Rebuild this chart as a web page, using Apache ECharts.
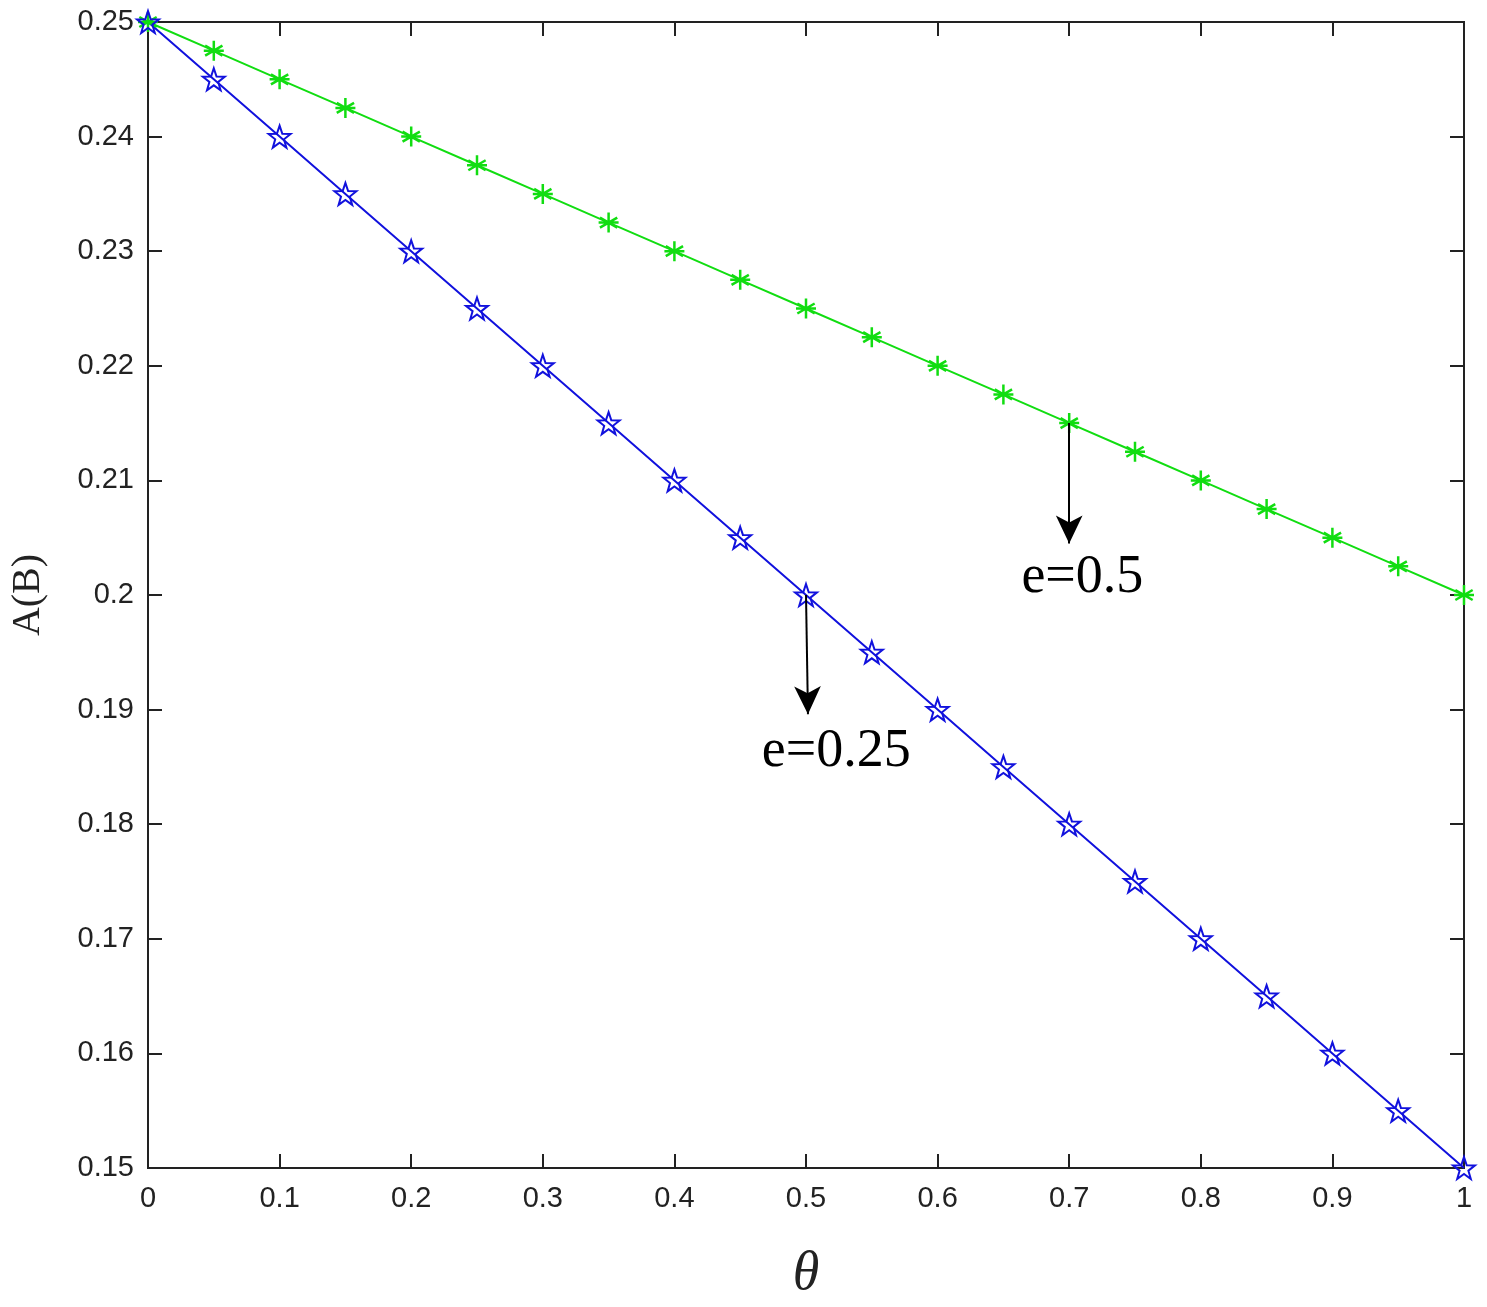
<!DOCTYPE html>
<html>
<head>
<meta charset="utf-8">
<script src="https://cdn.jsdelivr.net/npm/echarts@6/dist/echarts.min.js"></script>
<style>html,body{margin:0;padding:0;background:#fff}#chart{width:1487px;height:1307px}</style>
</head>
<body>
<div id="chart"></div>
<script>
var thetas = [0,0.05,0.1,0.15,0.2,0.25,0.3,0.35,0.4,0.45,0.5,0.55,0.6,0.65,0.7,0.75,0.8,0.85,0.9,0.95,1];
var e025 = [0.25,0.245,0.24,0.235,0.23,0.225,0.22,0.215,0.21,0.205,0.2,0.195,0.19,0.185,0.18,0.175,0.17,0.165,0.16,0.155,0.15];
var e05 = [0.25,0.2475,0.245,0.2425,0.24,0.2375,0.235,0.2325,0.23,0.2275,0.225,0.2225,0.22,0.2175,0.215,0.2125,0.21,0.2075,0.205,0.2025,0.2];

function pairs(ys) { return thetas.map(function (t, i) { return [t, ys[i]]; }); }

var starPath = 'path://M0,-10L2.35,-3.24L9.51,-3.09L3.8,1.24L5.88,8.09L0,4L-5.88,8.09L-3.8,1.24L-9.51,-3.09L-2.35,-3.24Z';
var asterPath = 'path://M0,-10L0,10M-8.66,-5L8.66,5M-8.66,5L8.66,-5M-10,0L10,0';

var tickFont = { fontFamily: 'Arial, Liberation Sans', fontSize: 29, color: '#222' };
var frameLine = { show: true, onZero: false, lineStyle: { color: '#222', width: 2 } };
var tickStyle = { inside: true, length: 14, lineStyle: { color: '#222', width: 2 } };

var myChart = echarts.init(document.getElementById('chart'));
var option = {
    animation: false,
    grid: { left: 148, right: 23, top: 22, bottom: 127, show: true, borderWidth: 2, borderColor: '#222' },
    xAxis: [
        { type: 'value', min: 0, max: 1, interval: 0.1, axisLine: frameLine, axisTick: tickStyle,
          axisLabel: Object.assign({ margin: 16 }, tickFont), splitLine: { show: false },
          name: 'θ', nameLocation: 'middle', nameGap: 80,
          nameTextStyle: { fontFamily: 'Liberation Serif', fontStyle: 'italic', fontSize: 54, color: '#222' } },
        { type: 'value', position: 'top', min: 0, max: 1, interval: 0.1, axisLine: frameLine, axisTick: tickStyle,
          axisLabel: { show: false }, splitLine: { show: false } }
    ],
    yAxis: [
        { type: 'value', min: 0.15, max: 0.25, interval: 0.01, axisLine: frameLine, axisTick: tickStyle,
          axisLabel: Object.assign({ margin: 14, formatter: function (v) { return +v.toFixed(2) + ''; } }, tickFont),
          splitLine: { show: false },
          name: 'A(B)', nameLocation: 'middle', nameGap: 100,
          nameTextStyle: { fontFamily: 'Liberation Serif', fontSize: 40, color: '#222' } },
        { type: 'value', position: 'right', min: 0.15, max: 0.25, interval: 0.01, axisLine: frameLine, axisTick: tickStyle,
          axisLabel: { show: false }, splitLine: { show: false } }
    ],
    series: [
        {
            name: 'e=0.5', type: 'line', data: pairs(e05),
            symbol: asterPath, symbolSize: 20,
            lineStyle: { color: '#11dd11', width: 2 },
            itemStyle: { color: 'none', borderColor: '#11dd11', borderWidth: 2.5 },
            markLine: {
                silent: true, symbol: ['none', 'arrow'], symbolSize: [20, 28],
                lineStyle: { color: '#000', width: 2, type: 'solid' }, label: { show: false },
                data: [[{ coord: [0.7, 0.215] }, { coord: [0.7, 0.2045] }]]
            },
            markPoint: {
                symbol: 'circle', symbolSize: 1, itemStyle: { color: 'transparent' },
                label: { show: true, formatter: 'e=0.5', fontFamily: 'Liberation Serif', fontSize: 54, color: '#000' },
                data: [{ coord: [0.71, 0.2015] }]
            }
        },
        {
            name: 'e=0.25', type: 'line', data: pairs(e025),
            symbol: starPath, symbolSize: 22,
            lineStyle: { color: '#1111dd', width: 2 },
            itemStyle: { color: 'none', borderColor: '#1111dd', borderWidth: 2 },
            markLine: {
                silent: true, symbol: ['none', 'arrow'], symbolSize: [20, 28],
                lineStyle: { color: '#000', width: 2, type: 'solid' }, label: { show: false },
                data: [[{ coord: [0.5, 0.2] }, { coord: [0.5015, 0.1896] }]]
            },
            markPoint: {
                symbol: 'circle', symbolSize: 1, itemStyle: { color: 'transparent' },
                label: { show: true, formatter: 'e=0.25', fontFamily: 'Liberation Serif', fontSize: 54, color: '#000' },
                data: [{ coord: [0.523, 0.1863] }]
            }
        }
    ]
};
myChart.setOption(option);
</script>
</body>
</html>
